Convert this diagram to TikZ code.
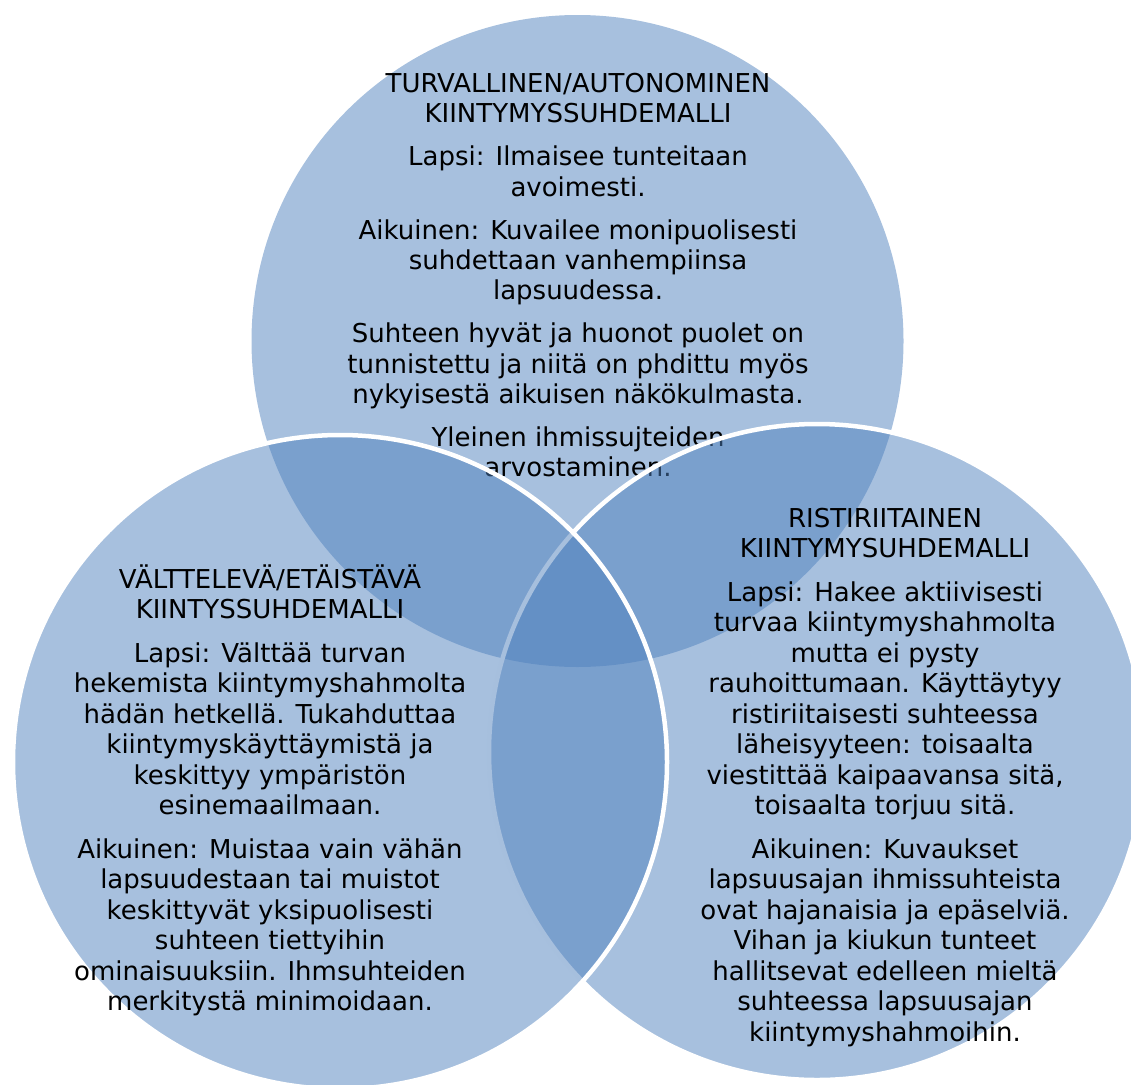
\documentclass[tikz,border=0pt]{standalone}
\usepackage{fontspec}
\setmainfont{DejaVu Sans}
\definecolor{vblue}{HTML}{4F81BD}
\begin{document}
\begin{tikzpicture}[x=1pt,y=-1pt,
  venn/.style={circle, inner sep=0pt, outer sep=0pt, fill=vblue, fill opacity=0.5, draw=white, draw opacity=1, line width=4.5pt},
  txt/.style={inner sep=0pt, outer sep=0pt, anchor=base, font=\fontsize{26}{30}\selectfont, text=black}]
\useasboundingbox (0,0) rectangle (1131,1084);
% top circle
\node[venn, draw=none, minimum size=652pt] (topc) at (577.5,341) {};
\node[txt] (t1) at (578,92.5) {TURVALLINEN/AUTONOMINEN};
\node[txt] (t2) at (578,122.8) {KIINTYMYSSUHDEMALLI};
\node[txt] (t3) at (578,165.8) {Lapsi: Ilmaisee tunteitaan};
\node[txt] (t4) at (578,196.1) {avoimesti.};
\node[txt] (t5) at (578,239.1) {Aikuinen: Kuvailee monipuolisesti};
\node[txt] (t6) at (578,269.4) {suhdettaan vanhempiinsa};
\node[txt] (t7) at (578,299.7) {lapsuudessa.};
\node[txt] (t8) at (578,342.7) {Suhteen hyvät ja huonot puolet on};
\node[txt] (t9) at (578,373) {tunnistettu ja niitä on phdittu myös};
\node[txt] (t10) at (578,403.3) {nykyisestä aikuisen näkökulmasta.};
\node[txt] (t11) at (578,446.3) {Yleinen ihmissujteiden};
\node[txt] (t12) at (578,476.6) {arvostaminen.};
% right circle
\node[venn, minimum size=656pt] (rightc) at (817,752) {};
\node[txt] (r1) at (885,527) {RISTIRIITAINEN};
\node[txt] (r2) at (885,557.5) {KIINTYMYSUHDEMALLI};
\node[txt] (r3) at (885,601) {Lapsi: Hakee aktiivisesti};
\node[txt] (r4) at (885,631.5) {turvaa kiintymyshahmolta};
\node[txt] (r5) at (885,662) {mutta ei pysty};
\node[txt] (r6) at (885,692.5) {rauhoittumaan. Käyttäytyy};
\node[txt] (r7) at (885,723) {ristiriitaisesti suhteessa};
\node[txt] (r8) at (885,753.5) {läheisyyteen: toisaalta};
\node[txt] (r9) at (885,784) {viestittää kaipaavansa sitä,};
\node[txt] (r10) at (885,814.5) {toisaalta torjuu sitä.};
\node[txt] (r11) at (885,858) {Aikuinen: Kuvaukset};
\node[txt] (r12) at (885,888.5) {lapsuusajan ihmissuhteista};
\node[txt] (r13) at (885,919) {ovat hajanaisia ja epäselviä.};
\node[txt] (r14) at (885,949.5) {Vihan ja kiukun tunteet};
\node[txt] (r15) at (885,980) {hallitsevat edelleen mieltä};
\node[txt] (r16) at (885,1010.5) {suhteessa lapsuusajan};
\node[txt] (r17) at (885,1041) {kiintymyshahmoihin.};
% left circle
\node[venn, minimum size=654pt] (leftc) at (340,762) {};
\node[txt] (l1) at (270,588) {VÄLTTELEVÄ/ETÄISTÄVÄ};
\node[txt] (l2) at (270,618.5) {KIINTYSSUHDEMALLI};
\node[txt] (l3) at (270,662) {Lapsi: Välttää turvan};
\node[txt] (l4) at (270,692.5) {hekemista kiintymyshahmolta};
\node[txt] (l5) at (270,723) {hädän hetkellä. Tukahduttaa};
\node[txt] (l6) at (270,753.5) {kiintymyskäyttäymistä ja};
\node[txt] (l7) at (270,784) {keskittyy ympäristön};
\node[txt] (l8) at (270,814.5) {esinemaailmaan.};
\node[txt] (l9) at (270,858) {Aikuinen: Muistaa vain vähän};
\node[txt] (l10) at (270,888.5) {lapsuudestaan tai muistot};
\node[txt] (l11) at (270,919) {keskittyvät yksipuolisesti};
\node[txt] (l12) at (270,949.5) {suhteen tiettyihin};
\node[txt] (l13) at (270,980) {ominaisuuksiin. Ihmsuhteiden};
\node[txt] (l14) at (270,1010.5) {merkitystä minimoidaan.};
\end{tikzpicture}
\end{document}
